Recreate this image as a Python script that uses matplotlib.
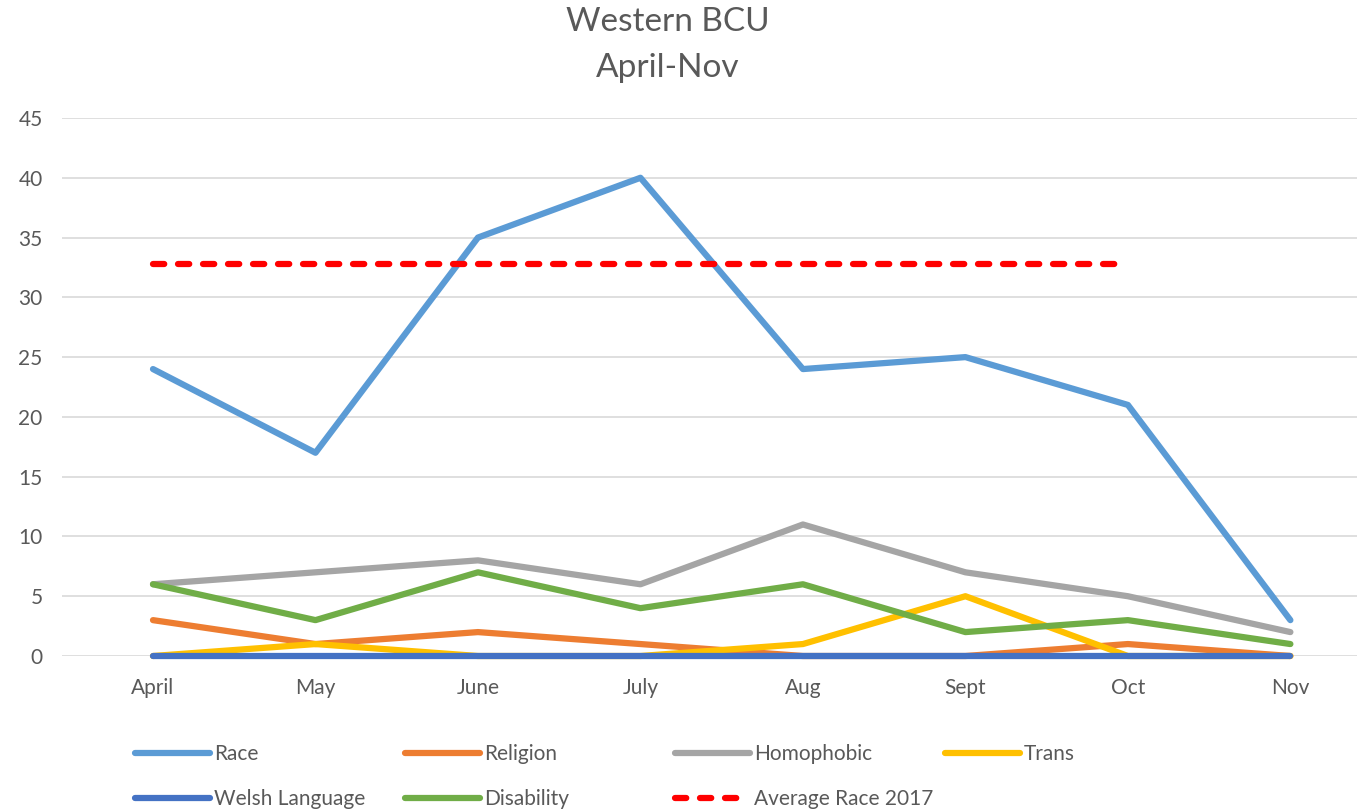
import numpy as np
import matplotlib
matplotlib.use("Agg")
import matplotlib.pyplot as plt

plt.rcParams['font.family'] = ['Lato', 'DejaVu Sans']

months = ["April", "May", "June", "July", "Aug", "Sept", "Oct", "Nov"]

race = [24, 17, 35, 40, 24, 25, 21, 3]
religion = [3, 1, 2, 1, 0, 0, 1, 0]
homophobic = [6, 7, 8, 6, 11, 7, 5, 2]
trans = [0, 1, 0, 0, 1, 5, 0, 0]
welsh = [0, 0, 0, 0, 0, 0, 0, 0]
disability = [6, 3, 7, 4, 6, 2, 3, 1]
avg_race_2017 = [32.8, 32.8, 32.8, 32.8, 32.8, 32.8, 32.8, np.nan]

TXT = "#595959"
LW = 4.5

fig = plt.figure(figsize=(13.57, 8.1), dpi=100)
ax = fig.add_axes([62/1357, 1 - 656/810, 1 - 62/1357, (656 - 118)/810])

x = np.arange(len(months))
series = [
    ("Race", race, "#5B9BD5"),
    ("Religion", religion, "#ED7D31"),
    ("Homophobic", homophobic, "#A5A5A5"),
    ("Trans", trans, "#FFC000"),
    ("Welsh Language", welsh, "#4472C4"),
    ("Disability", disability, "#70AD47"),
]
h = {}
for name, vals, col in series:
    h[name], = ax.plot(x, vals, color=col, lw=LW, solid_capstyle='round',
                       solid_joinstyle='round', clip_on=False, label=name)
h["Average Race 2017"], = ax.plot(x, avg_race_2017, color="#FF0000", lw=LW,
                                  dashes=(1.8, 2.2), dash_capstyle='round',
                                  clip_on=False, label="Average Race 2017")

ax.set_xlim(-0.56, 7.41)
ax.set_ylim(0, 45)
ax.set_yticks(range(0, 46, 5))
ax.set_xticks(x)
ax.set_xticklabels(months)
ax.grid(axis='y', color="#D9D9D9", lw=1.2)
ax.set_axisbelow(True)
for s in ax.spines.values():
    s.set_visible(False)
ax.tick_params(axis='x', length=0, pad=16, labelsize=15, labelcolor=TXT)
ax.tick_params(axis='y', length=0, pad=14, labelsize=15, labelcolor=TXT)

fig.text(668/1357, 1 - 22/810, "Western BCU", ha='center', va='center',
         fontsize=24, color=TXT)
fig.text(668/1357, 1 - 68/810, "April-Nov", ha='center', va='center',
         fontsize=24, color=TXT)

cols = [
    (135, ["Race", "Welsh Language"]),
    (405, ["Religion", "Disability"]),
    (675, ["Homophobic", "Average Race 2017"]),
    (945, ["Trans"]),
]
for xpix, names in cols:
    fig.legend([h[n] for n in names], names, loc='upper left',
               bbox_to_anchor=(xpix/1357, 1 - 744/810), frameon=False,
               fontsize=15, labelcolor=TXT, borderpad=0, borderaxespad=0,
               handlelength=3.6, handletextpad=0.2, labelspacing=1.2)

fig.savefig("out.png", dpi=100)
